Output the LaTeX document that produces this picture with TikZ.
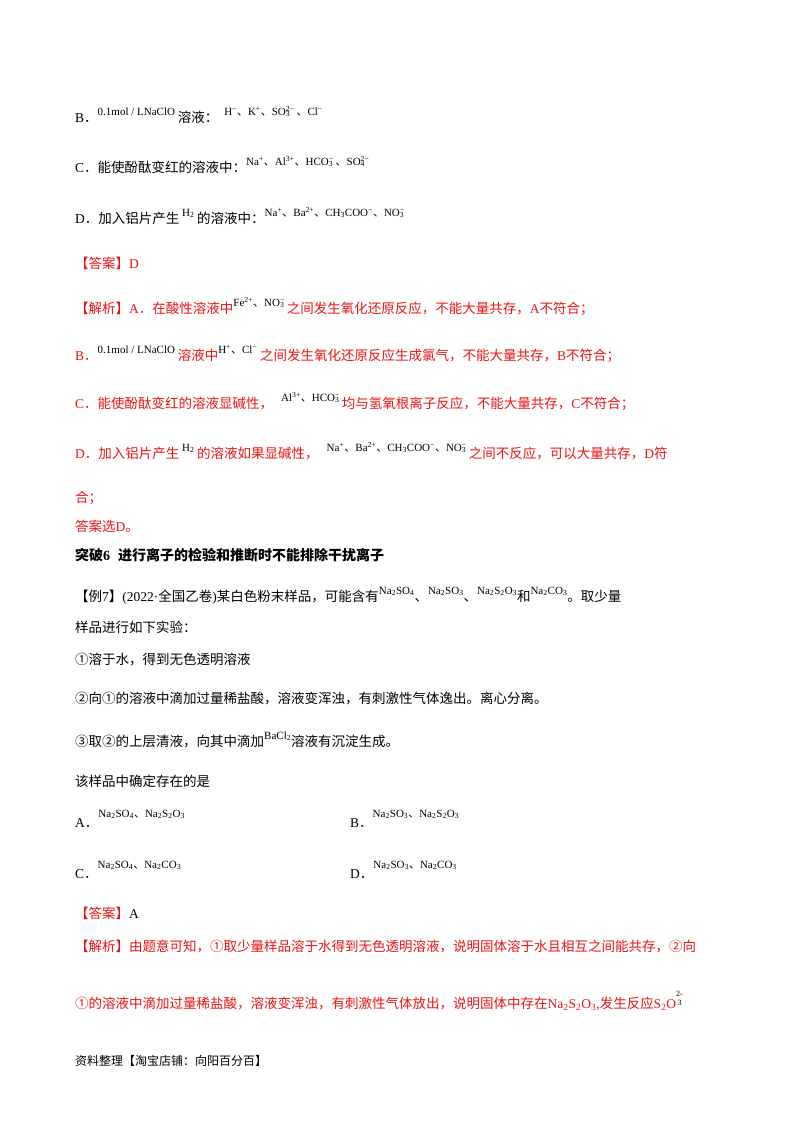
\documentclass[tikz,border=0pt]{standalone}
\usepackage{fontspec}
\setmainfont{Noto Sans CJK SC}
\newfontfamily\tnr{Liberation Serif}
\newfontfamily\cjk{Noto Sans CJK SC}
\definecolor{rd}{RGB}{235,20,20}
\newcommand{\dn}{{\cjk 、}}
\newcommand{\F}[1]{\raisebox{7pt}{\fontsize{11}{13}\selectfont\tnr #1}}
\newcommand{\io}[3]{#1\rlap{\textsubscript{#2}}\textsuperscript{#3}\hspace{2pt}}
\newcommand{\lo}[1]{\textsubscript{#1}}
\newcommand{\hi}[1]{\textsuperscript{#1}}
\newcommand{\T}[1]{{\tnr #1}}
\begin{document}
\begin{tikzpicture}[x=1pt,y=-1pt,
  ln/.style={anchor=base west,inner sep=0pt,font=\fontsize{13.5}{16}\selectfont},
  red/.style={ln,text=rd}]
\useasboundingbox[fill=white] (0,0) rectangle (800,1132);
\node[ln] (b) at (75,122) {\T{B}．\F{0.1mol / LNaClO\ }溶液：\hspace{6pt}\F{H\hi{−}\dn K\hi{+}\dn\io{SO}{3}{2−}\dn Cl\hi{−}}};
\node[ln] (c) at (75,172) {\T{C}．能使酚酞变红的溶液中：\F{Na\hi{+}\dn Al\hi{3+}\dn\io{HCO}{3}{−}\dn\io{SO}{4}{2−}}};
\node[ln] (d) at (75,223) {\T{D}．加入铝片产生\F{\ H\lo{2}\ }的溶液中：\F{Na\hi{+}\dn Ba\hi{2+}\dn CH\lo{3}COO\hi{−}\dn\io{NO}{3}{−}}};
\node[red] (ans) at (75,268) {【答案】\T{D}};
\node[red] (ja) at (75,313) {【解析】\T{A}．在酸性溶液中\textcolor{black}{\F{Fe\hi{2+}\dn\io{NO}{3}{−}}}之间发生氧化还原反应，不能大量共存，\T{A}不符合；};
\node[red] (jb) at (75,360) {\T{B}．\textcolor{black}{\F{0.1mol / LNaClO\ }}溶液中\textcolor{black}{\F{H\hi{+}\dn Cl\hi{−}\ }}之间发生氧化还原反应生成氯气，不能大量共存，\T{B}不符合；};
\node[red] (jc) at (75,408) {\T{C}．能使酚酞变红的溶液显碱性，\hspace{8pt}\textcolor{black}{\F{Al\hi{3+}\dn\io{HCO}{3}{−}}}均与氢氧根离子反应，不能大量共存，\T{C}不符合；};
\node[red] (jd) at (75,458) {\T{D}．加入铝片产生\textcolor{black}{\F{\ H\lo{2}\ }}的溶液如果显碱性，\hspace{8pt}\textcolor{black}{\F{Na\hi{+}\dn Ba\hi{2+}\dn CH\lo{3}COO\hi{−}\dn\io{NO}{3}{−}}}之间不反应，可以大量共存，\T{D}符};
\node[red] (he) at (75,502) {合；};
\node[red] (xd) at (75,531) {答案选\T{D}。};
\node[ln,font=\fontsize{14}{16}\selectfont\bfseries] (tp) at (75,560) {突破\T{\textbf{6}}\hspace{8pt}进行离子的检验和推断时不能排除干扰离子};
\node[ln] (l7) at (75,601) {【例\T{7}】\T{(2022·}全国乙卷\T{)}某白色粉末样品，可能含有\F{Na\lo{2}SO\lo{4}}、\F{Na\lo{2}SO\lo{3}}、\F{Na\lo{2}S\lo{2}O\lo{3}}和\F{Na\lo{2}CO\lo{3}}。取少量};
\node[ln] (yp) at (75,632) {样品进行如下实验：};
\node[ln] (s1) at (75,664) {①溶于水，得到无色透明溶液};
\node[ln] (s2) at (75,703) {②向①的溶液中滴加过量稀盐酸，溶液变浑浊，有刺激性气体逸出。离心分离。};
\node[ln] (s3) at (75,746) {③取②的上层清液，向其中滴加\F{BaCl\lo{2}}溶液有沉淀生成。};
\node[ln] (q) at (75,786) {该样品中确定存在的是};
\node[ln] (oa) at (75,827) {\T{A}．\raisebox{10pt}{\fontsize{11}{13}\selectfont\tnr Na\lo{2}SO\lo{4}\dn Na\lo{2}S\lo{2}O\lo{3}}};
\node[ln] (ob) at (350,827) {\T{B}．\raisebox{10pt}{\fontsize{11}{13}\selectfont\tnr Na\lo{2}SO\lo{3}\dn Na\lo{2}S\lo{2}O\lo{3}}};
\node[ln] (oc) at (75,878) {\T{C}．\raisebox{10pt}{\fontsize{11}{13}\selectfont\tnr Na\lo{2}SO\lo{4}\dn Na\lo{2}CO\lo{3}}};
\node[ln] (od) at (350,878) {\T{D}．\raisebox{10pt}{\fontsize{11}{13}\selectfont\tnr Na\lo{2}SO\lo{3}\dn Na\lo{2}CO\lo{3}}};
\node[ln] (ans2) at (75,918) {\textcolor{rd}{【答案】}\T{A}};
\node[red] (j2) at (75,951) {【解析】由题意可知，①取少量样品溶于水得到无色透明溶液，说明固体溶于水且相互之间能共存，②向};
\node[red] (j3) at (75,1008) {①的溶液中滴加过量稀盐酸，溶液变浑浊，有刺激性气体放出，说明固体中存在\T{Na\lo{2}S\lo{2}O\lo{3},}发生反应\T{S\lo{2}O}\textcolor{black}{\raisebox{3pt}{\fontsize{8}{9}\selectfont\tnr\shortstack{2-\\3}}}};
\node[ln,font=\fontsize{12}{14}\selectfont] (ft) at (75,1065) {资料整理【淘宝店铺：向阳百分百】};
\end{tikzpicture}
\end{document}
